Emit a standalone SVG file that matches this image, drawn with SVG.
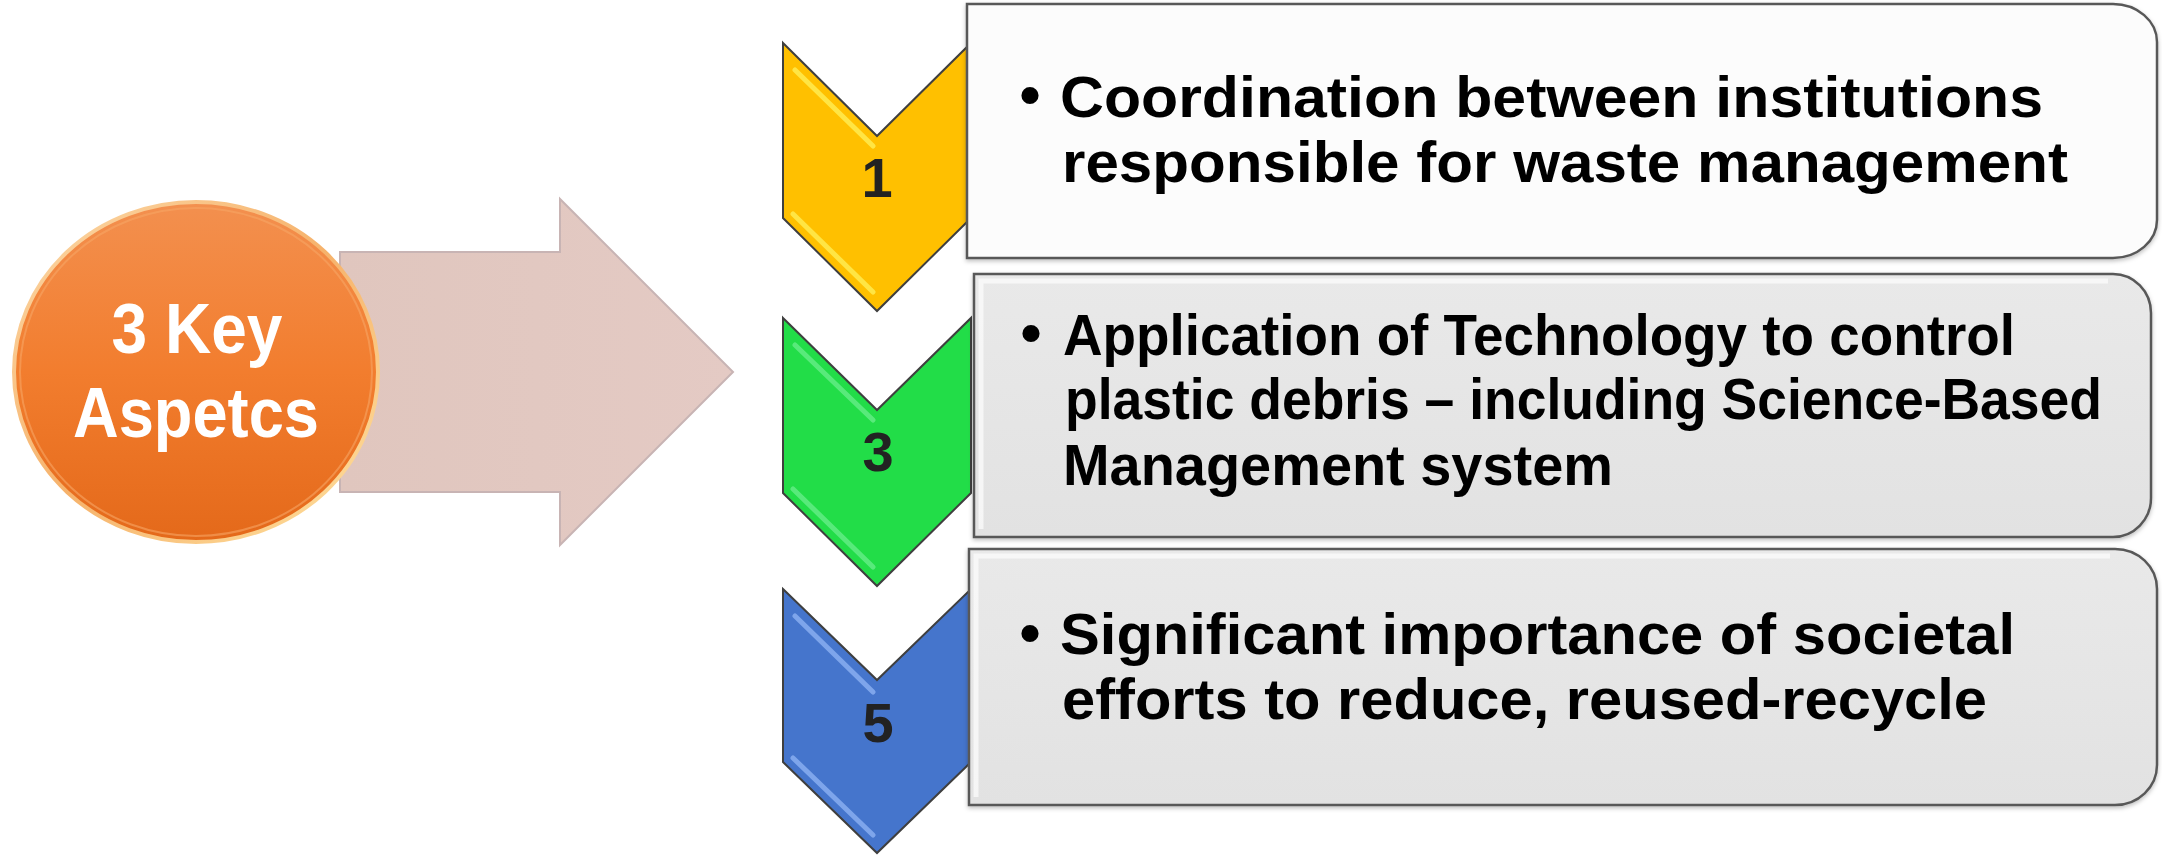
<svg xmlns="http://www.w3.org/2000/svg" width="2162" height="857" viewBox="0 0 2162 857">
<style>
.box-txt{font-family:"Liberation Sans","Open Sans",sans-serif;font-weight:700;font-size:57px;fill:#000}
.bul{font-family:"Liberation Sans","Open Sans",sans-serif;font-weight:700;font-size:60px;fill:#000;text-anchor:middle}
.num{font-family:"Liberation Sans","Open Sans",sans-serif;font-weight:700;font-size:56px;fill:#222;text-anchor:middle}
.key{font-family:"Liberation Sans","Open Sans",sans-serif;font-weight:700;font-size:70px;fill:#fff;text-anchor:middle}
.chev{stroke:#3f3f3f;stroke-width:2;stroke-linejoin:miter}
.hl{fill:none;stroke-width:5;stroke-linecap:round;opacity:0.8}
.box{stroke:#595959;stroke-width:2.5}
.bev{fill:none;stroke:#fafafa;stroke-width:5;opacity:0.8}
</style>
<defs>
<linearGradient id="gOrange" x1="0" y1="0" x2="0" y2="1">
<stop offset="0" stop-color="#F3904F"/>
<stop offset="0.5" stop-color="#F27D2E"/>
<stop offset="1" stop-color="#E4691A"/>
</linearGradient>
<linearGradient id="gRim" x1="0" y1="0" x2="1" y2="1">
<stop offset="0" stop-color="#FCD9A8"/>
<stop offset="0.5" stop-color="#F6B26B"/>
<stop offset="1" stop-color="#FFE2A0"/>
</linearGradient>
<linearGradient id="gArrow" x1="0" y1="0" x2="1" y2="0">
<stop offset="0" stop-color="#E0C6BE"/>
<stop offset="1" stop-color="#E4CAC4"/>
</linearGradient>
<linearGradient id="gBox" x1="0" y1="0" x2="0" y2="1">
<stop offset="0" stop-color="#E9E9E9"/>
<stop offset="1" stop-color="#E2E2E2"/>
</linearGradient>
<filter id="sh" x="-5%" y="-10%" width="110%" height="125%">
<feDropShadow dx="0" dy="2" stdDeviation="2" flood-color="#000" flood-opacity="0.25"/>
</filter>
</defs>

<g id="arrow">
<path d="M340,252 L560,252 L560,199 L733,372 L560,545 L560,492 L340,492 Z" fill="url(#gArrow)" stroke="#C8B4B4" stroke-width="2"/>
</g>

<g id="key-aspects">
<ellipse cx="196" cy="372" rx="182" ry="170" fill="url(#gOrange)" stroke="url(#gRim)" stroke-width="4"/>
<ellipse cx="196" cy="372" rx="176" ry="164" fill="none" stroke="#F7A564" stroke-width="2" opacity="0.6"/>
<text class="key" x="197" y="353" textLength="171" lengthAdjust="spacingAndGlyphs">3 Key</text>
<text class="key" x="196" y="437" textLength="246" lengthAdjust="spacingAndGlyphs">Aspetcs</text>
</g>

<g id="chevron-1">
<path class="chev" d="M783,43 L877,136 L971,43 L971,218 L877,311 L783,218 Z" fill="#FFC000"/>
<path class="hl" stroke="#FFEE55" d="M795,70 L873,146 M793,214 L873,292"/>
<text class="num" x="877" y="197">1</text>
</g>
<g id="chevron-2">
<path class="chev" d="M783,318 L877,410 L971,318 L971,493 L877,586 L783,493 Z" fill="#22DD48"/>
<path class="hl" stroke="#66EE88" d="M795,345 L873,420 M793,489 L873,567"/>
<text class="num" x="878" y="471">3</text>
</g>
<g id="chevron-3">
<path class="chev" d="M783,589 L877,680 L971,589 L971,762 L877,853 L783,762 Z" fill="#4575CC"/>
<path class="hl" stroke="#8CB2F2" d="M795,616 L873,692 M793,758 L873,835"/>
<text class="num" x="878" y="742">5</text>
</g>

<g id="box-1">
<path class="box" filter="url(#sh)" d="M967,4 L2113,4 A44,38 0 0 1 2157,42 L2157,220 A44,38 0 0 1 2113,258 L967,258 Z" fill="#FCFCFC"/>
<text class="bul" x="1030" y="115">•</text>
<text class="box-txt" x="1060" y="117" textLength="983" lengthAdjust="spacingAndGlyphs">Coordination between institutions</text>
<text class="box-txt" x="1062" y="182" textLength="1006" lengthAdjust="spacingAndGlyphs">responsible for waste management</text>
</g>

<g id="box-2">
<path class="box" filter="url(#sh)" d="M974,274 L2113,274 A38,39 0 0 1 2151,313 L2151,498 A38,39 0 0 1 2113,537 L974,537 Z" fill="url(#gBox)"/>
<path class="bev" d="M981,529 L981,281 L2108,281"/>
<text class="bul" x="1031" y="353">•</text>
<text class="box-txt" x="1063" y="355" textLength="952" lengthAdjust="spacingAndGlyphs">Application of Technology to control</text>
<text class="box-txt" x="1065" y="419" textLength="1037" lengthAdjust="spacingAndGlyphs">plastic debris – including Science-Based</text>
<text class="box-txt" x="1063" y="485" textLength="550" lengthAdjust="spacingAndGlyphs">Management system</text>
</g>

<g id="box-3">
<path class="box" filter="url(#sh)" d="M969,549 L2115,549 A42,40 0 0 1 2157,589 L2157,765 A42,40 0 0 1 2115,805 L969,805 Z" fill="url(#gBox)"/>
<path class="bev" d="M976,797 L976,556 L2110,556"/>
<text class="bul" x="1030" y="653">•</text>
<text class="box-txt" x="1060" y="654" textLength="955" lengthAdjust="spacingAndGlyphs">Significant importance of societal</text>
<text class="box-txt" x="1062" y="719" textLength="925" lengthAdjust="spacingAndGlyphs">efforts to reduce, reused-recycle</text>
</g>

<g id="connectors"></g>
</svg>
